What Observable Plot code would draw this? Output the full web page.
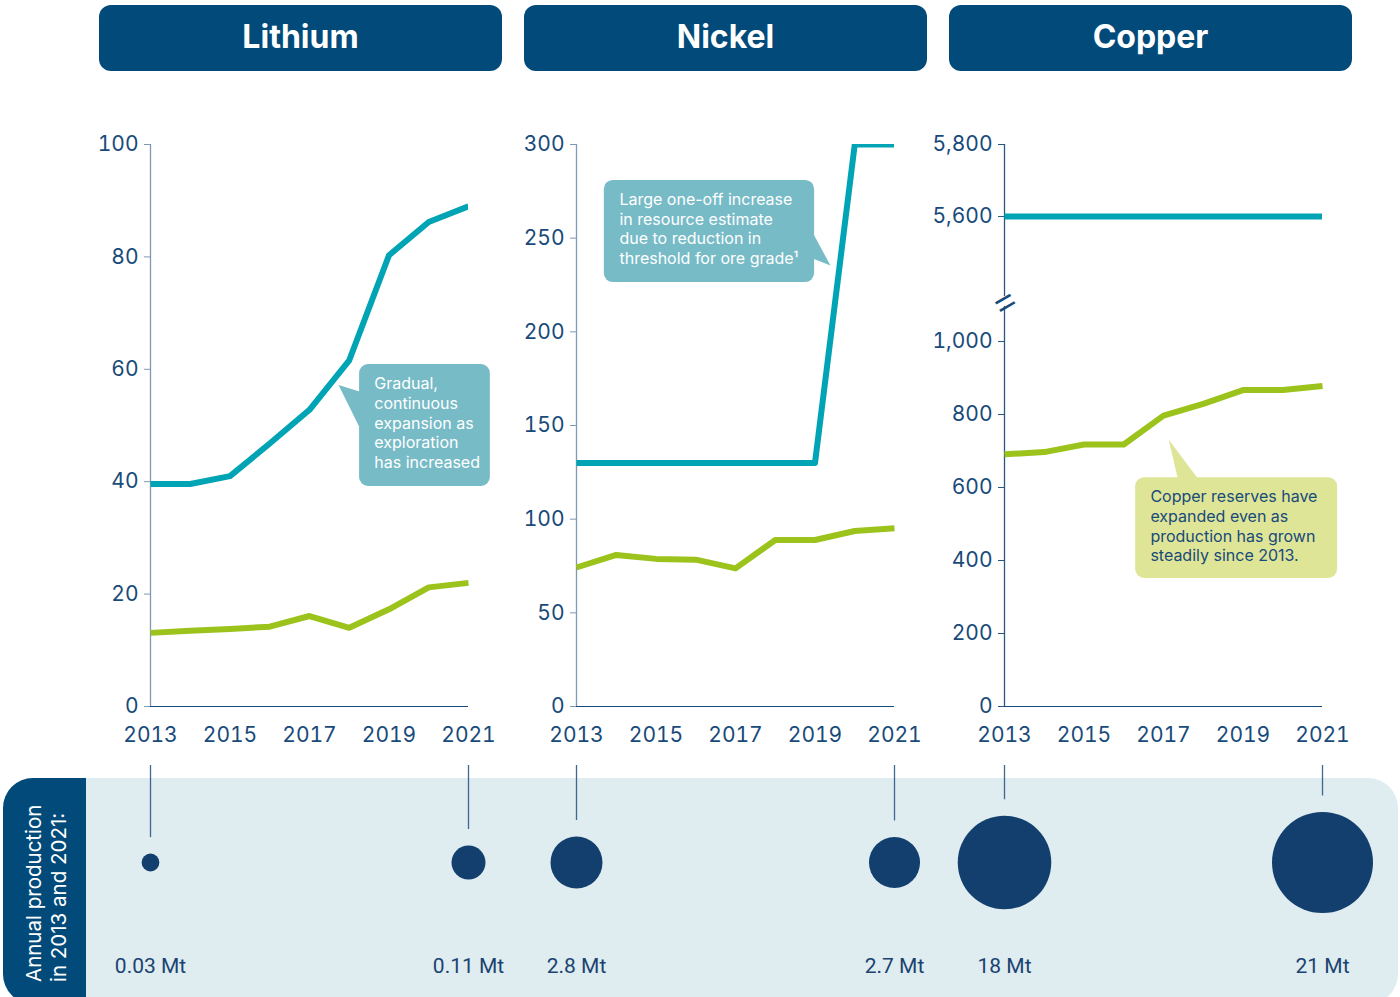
<!DOCTYPE html>
<html>
<head>
<meta charset="utf-8">
<script src="https://cdn.jsdelivr.net/npm/d3@7"></script>
<script src="https://cdn.jsdelivr.net/npm/@observablehq/plot@0.6"></script>
<style>
  html, body { margin: 0; padding: 0; background: #ffffff; }
  #root { position: relative; width: 1400px; height: 997px; overflow: hidden; font-family: Inter, "Noto Sans", sans-serif; }
  .hdr { position: absolute; top: 5px; height: 62px; padding-bottom: 4px; width: 403px; border-radius: 12px; background: #014a79; color: #ffffff;
         font-weight: 700; font-size: 32px; display: flex; align-items: center; justify-content: center; }
  .band { position: absolute; left: 3px; top: 778px; width: 1395px; height: 226px; border-radius: 30px; background: #dfecf0; overflow: hidden; }
  .band .side { position: absolute; left: 0; top: 0; width: 83px; height: 100%; background: #014a79; }
  .rot { position: absolute; left: 21px; top: 982px; width: 220px; transform-origin: 0 0; transform: rotate(-90deg);
         color: #ffffff; font-family: Inter, "Noto Sans", sans-serif; font-size: 20.5px; line-height: 25px; white-space: nowrap; }
</style>
</head>
<body>
<div id="root"></div>
<script>
// ---------------- data ----------------
const years = [2013, 2014, 2015, 2016, 2017, 2018, 2019, 2020, 2021];
const xTicks = [2013, 2015, 2017, 2019, 2021];
const metals = ["Lithium", "Nickel", "Copper"];

const lithiumResources = [39.6, 39.6, 41.0, 46.8, 52.8, 61.6, 80.3, 86.2, 89.0];
const lithiumReserves  = [13.1, 13.5, 13.8, 14.2, 16.1, 14.0, 17.3, 21.2, 22.0];
const nickelResources  = [130, 130, 130, 130, 130, 130, 130, 300, 300];
const nickelReserves   = [74.2, 80.9, 78.8, 78.4, 73.7, 88.9, 88.9, 93.7, 95.2];
const copperResources  = [5600, 5600, 5600, 5600, 5600, 5600, 5600, 5600, 5600];
const copperReserves   = [691, 697, 718, 718, 797, 829, 867, 867, 878];

const lithiumTicks = [0, 20, 40, 60, 80, 100];
const nickelTicks  = [0, 50, 100, 150, 200, 250, 300];
const copperTicks  = [0, 200, 400, 600, 800, 1000, 5600, 5800];
const copperBreak  = [1096, 5378];   // broken-axis gap (values)

const productionYears   = [2013, 2021];
const lithiumProduction = [0.03, 0.11];
const nickelProduction  = [2.8, 2.7];
const copperProduction  = [18, 21];
const productionUnit = "Mt";
const productionTitle = ["Annual production", "in 2013 and 2021:"];

const lithiumNoteText = "Gradual,\ncontinuous\nexpansion as\nexploration\nhas increased";
const nickelNoteText  = "Large one-off increase\nin resource estimate\ndue to reduction in\nthreshold for ore grade\u00b9";
const copperNoteText  = "Copper reserves have\nexpanded even as\nproduction has grown\nsteadily since 2013.";

// ---------------- styles / layout ----------------
const C = {
  teal: "#00a4b4", green: "#9cc31c", navy: "#184a7a", bubble: "#123f6d",
  noteTeal: "#77bbc7", noteGreen: "#dfe597", leader: "#3f6790"
};
const FONT = "Inter, 'Noto Sans', sans-serif";
const fmt = d3.format(",d");

const root = document.getElementById("root");
const band = document.createElement("div");
band.className = "band";
band.innerHTML = '<div class="side"></div>';
root.appendChild(band);
const rot = document.createElement("div");
rot.className = "rot";
rot.innerHTML = productionTitle.map(t => `<div>${t}</div>`).join("");
root.appendChild(rot);

const panels = [
  { name: metals[0], left: 90,  width: 420, ml: 60, mr: 42, hdrLeft: 99,
    resources: lithiumResources, reserves: lithiumReserves, ticks: lithiumTicks,
    y: { domain: [0, 100] }, axisColor: "#7f98b3",
    production: lithiumProduction, rmax: 17,
    note: { x1: 2018.26, x2: 2021.55, y1: 39.15, y2: 60.85, tx: 2018.63, ty: 58.9, text: lithiumNoteText,
            fill: C.noteTeal, color: "#ffffff",
            pointer: [[2017.73, 57.2], [2018.32, 55.9], [2018.32, 48.8]] } },
  { name: metals[1], left: 515, width: 420, ml: 61, mr: 41, hdrLeft: 524,
    resources: nickelResources, reserves: nickelReserves, ticks: nickelTicks,
    y: { domain: [0, 300] }, axisColor: "#7f98b3",
    production: nickelProduction, rmax: 26,
    note: { x1: 2013.70, x2: 2018.99, y1: 226.3, y2: 280.8, tx: 2014.08, ty: 275.1, text: nickelNoteText,
            fill: C.noteTeal, color: "#ffffff",
            pointer: [[2018.94, 253.0], [2019.39, 235.4], [2018.94, 239.1]] } },
  { name: metals[2], left: 930, width: 440, ml: 74, mr: 48, hdrLeft: 949,
    resources: copperResources, reserves: copperReserves, ticks: copperTicks,
    y: { domain: [0, copperBreak[0], copperBreak[1], 5800], range: [586, 186, 176, 24] }, axisColor: "#2b5683",
    broken: true,
    production: copperProduction, rmax: 50.5,
    note: { x1: 2016.30, x2: 2021.38, y1: 350.7, y2: 627, tx: 2016.67, ty: 598, text: copperNoteText,
            fill: C.noteGreen, color: C.navy,
            pointer: [[2017.13, 731.5], [2017.38, 615], [2017.93, 615]] } }
];

function place(el, left, top) {
  el.style.position = "absolute";
  el.style.left = left + "px";
  el.style.top = top + "px";
  root.appendChild(el);
}

for (const p of panels) {
  const series = [
    ...years.map((yr, i) => ({ year: yr, value: p.resources[i], kind: "resources" })),
    ...years.map((yr, i) => ({ year: yr, value: p.reserves[i], kind: "reserves" }))
  ];
  const axisSegments = p.broken
    ? [{ y1: 0, y2: copperBreak[0] }, { y1: copperBreak[1], y2: 5800 }]
    : [{ y1: p.y.domain[0], y2: p.y.domain[p.y.domain.length - 1] }];

  const marks = [
    Plot.ruleX(axisSegments, { x: () => years[0], y1: "y1", y2: "y2", stroke: p.axisColor, strokeWidth: 1.3 }),
    Plot.ruleY([0], { stroke: C.navy, strokeWidth: 1 }),
    Plot.axisY(p.ticks, { tickSize: 6, tickPadding: 6, tickFormat: fmt, stroke: p.axisColor, fill: C.navy, label: null, fontSize: 21 }),
    Plot.axisX(xTicks, { tickSize: 0, tickPadding: 21, tickFormat: d => String(d), fill: C.navy, label: null, fontSize: 21 }),
    Plot.line(series.filter(d => d.kind === "reserves"), { x: "year", y: "value", stroke: C.green, strokeWidth: 6, strokeLinecap: "butt", strokeLinejoin: "round" }),
    Plot.line(series.filter(d => d.kind === "resources"), { x: "year", y: "value", stroke: C.teal, strokeWidth: 6, strokeLinecap: "butt", strokeLinejoin: "round", clip: true }),
    // callout
    Plot.line(p.note.pointer.map(([x, y]) => ({ x, y })), { x: "x", y: "y", fill: p.note.fill, stroke: "none", curve: "linear" }),
    Plot.rect([p.note], { x1: "x1", x2: "x2", y1: "y1", y2: "y2", fill: p.note.fill, rx: 9 }),
    Plot.text([p.note], { x: "tx", y: "ty", text: "text", fill: p.note.color, textAnchor: "start", lineAnchor: "top", lineHeight: 1.23, fontSize: 16, fontFamily: FONT })
  ];
  if (p.broken) {
    marks.push(Plot.text([{ x: years[0], y: (copperBreak[0] + copperBreak[1]) / 2 }], { x: "x", y: "y", text: () => "=", rotate: -30, fontSize: 42, fill: C.navy, fontWeight: 300 }));
  }

  const chart = Plot.plot({
    width: p.width, height: 640,
    marginLeft: p.ml, marginRight: p.mr, marginTop: 24, marginBottom: 54,
    style: { background: "transparent", overflow: "visible", fontFamily: FONT, fontSize: "21px", color: C.navy },
    x: { domain: [years[0], years[years.length - 1]] },
    y: Object.assign({ type: "linear" }, p.y),
    marks
  });
  place(chart, p.left, 120);

  // production bubbles
  const rOpts = { type: "sqrt", domain: [0, d3.max(p.production)], range: [0, p.rmax] };
  const rScale = Plot.scale({ r: rOpts });
  const pts = productionYears.map((yr, i) => ({ year: yr, v: p.production[i], label: `${p.production[i]} ${productionUnit}` }));
  const frameBottomFromCenter = 97; // frame is symmetric around bubble centres
  const bubbleMarks = [
    ...pts.map(d => Plot.ruleX([d], { x: "year", stroke: C.leader, strokeWidth: 1.3, insetBottom: frameBottomFromCenter + 16 + rScale.apply(d.v) })),
    Plot.dot(pts, { x: "year", r: "v", fill: C.bubble, stroke: "none" }),
    Plot.text(pts, { x: "year", text: "label", frameAnchor: "bottom", dy: 13, fill: "#1a4370", fontSize: 21, fontFamily: "Roboto, Inter, sans-serif" })
  ];
  const bubbles = Plot.plot({
    width: p.width, height: 237,
    marginLeft: p.ml, marginRight: p.mr, marginTop: 5, marginBottom: 38,
    style: { background: "transparent", overflow: "visible", fontFamily: FONT },
    x: { domain: [years[0], years[years.length - 1]], axis: null },
    r: rOpts,
    marks: bubbleMarks
  });
  place(bubbles, p.left, 760);

  const hdr = document.createElement("div");
  hdr.className = "hdr";
  hdr.style.left = p.hdrLeft + "px";
  hdr.textContent = p.name;
  root.appendChild(hdr);
}
</script>
</body>
</html>
